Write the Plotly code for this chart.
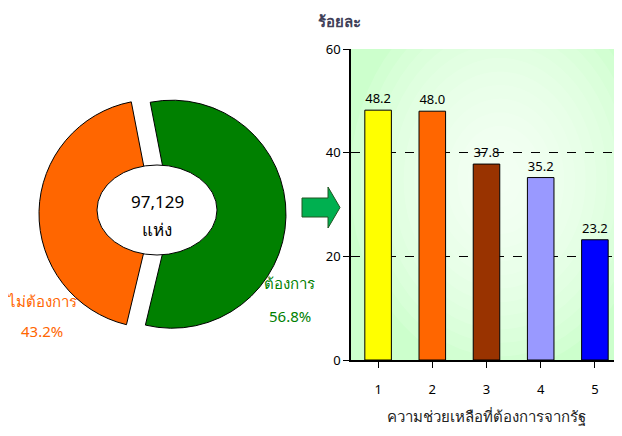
import plotly.graph_objects as go

# data
pie_labels = ["ต้องการ", "ไม่ต้องการ"]
pie_values = [56.8, 43.2]
pie_colors = ["#008000", "#FF6600"]
total_text = ["97,129", "แห่ง"]

bar_cats = [1, 2, 3, 4, 5]
bar_values = [48.2, 48.0, 37.8, 35.2, 23.2]
bar_colors = ["#FFFF00", "#FF6600", "#993300", "#9999FF", "#0000FF"]
y_ticks = [0, 20, 40, 60]

# page has an 8px body margin, so the figure is shrunk and shifted by it
OX, OY = 8, 8
W, H = 622 - OX, 436 - OY
FONT = "Noto Sans, sans-serif"


def px(x):
    return (x - OX) / W


def py(y):
    return 1 - (y - OY) / H


fig = go.Figure()

# donut
fig.add_trace(go.Pie(
    labels=pie_labels,
    values=pie_values,
    sort=False,
    direction="clockwise",
    rotation=-11,
    pull=[0.083, 0.083],
    hole=0.2,
    textinfo="none",
    marker=dict(colors=pie_colors, line=dict(color="black", width=1)),
    domain=dict(x=[px(39), px(286)], y=[py(337.5), py(90.5)]),
    showlegend=False,
))

# bars
fig.add_trace(go.Bar(
    x=bar_cats,
    y=bar_values,
    width=0.49,
    marker=dict(color=bar_colors, line=dict(color="black", width=1)),
    text=[f"{v:.1f}" for v in bar_values],
    textposition="outside",
    textfont=dict(size=13, color="black"),
    cliponaxis=False,
    showlegend=False,
))

fig.update_layout(
    width=W, height=H,
    margin=dict(l=0, r=0, t=0, b=0, autoexpand=False),
    paper_bgcolor="white",
    plot_bgcolor="#ccffcc",
    font=dict(family=FONT, size=13, color="black"),
    xaxis=dict(
        domain=[px(351), 1.0],
        range=[0.5, 5.5],
        tickvals=bar_cats,
        tickson="boundaries",
        ticks="outside", ticklen=6, tickcolor="black",
        ticklabelstandoff=11,
        showline=True, linecolor="black", linewidth=1.5,
        showgrid=False, zeroline=False,
        automargin=False,
        title=dict(text="ความช่วยเหลือที่ต้องการจากรัฐ",
                   font=dict(size=15, color="#222222"), standoff=14),
    ),
    yaxis=dict(
        domain=[py(360), py(49)],
        range=[0, 60],
        tickvals=y_ticks,
        ticks="outside", ticklen=6, tickcolor="black",
        showline=True, linecolor="black", linewidth=1.5,
        showgrid=True, gridcolor="black", griddash="dash", gridwidth=1,
        zeroline=False,
        automargin=False,
    ),
)

# soft radial glow in the plot background
n = 14
for i in range(n):
    f = 1 - i / n
    fig.add_shape(type="circle", xref="paper", yref="paper",
                  x0=px(500 - 150 * f), x1=px(500 + 150 * f),
                  y0=py(180 + 190 * f), y1=py(180 - 190 * f),
                  fillcolor="white", opacity=0.12, line=dict(width=0), layer="below")

# ellipse centre and arrow
fig.add_shape(type="circle", xref="paper", yref="paper",
              x0=px(97), x1=px(217), y0=py(255), y1=py(165),
              fillcolor="white", line=dict(color="black", width=1), layer="above")

arrow_pts = [(302, 198), (328, 198), (328, 187), (340, 207.5),
             (328, 228), (328, 217), (302, 217)]
path = "M " + " L ".join(f"{px(x)},{py(y)}" for x, y in arrow_pts) + " Z"
fig.add_shape(type="path", xref="paper", yref="paper", path=path,
              fillcolor="#00B050", line=dict(color="#225522", width=1), layer="above")

# annotations
ann = [
    (total_text[0], 157, 201, 17, "black"),
    (total_text[1], 157, 229, 17, "black"),
    (pie_labels[1], 42, 301, 15, pie_colors[1]),
    (f"{pie_values[1]}%", 42, 331, 15, pie_colors[1]),
    (pie_labels[0], 289, 283, 15, pie_colors[0]),
    (f"{pie_values[0]}%", 290, 316, 15, pie_colors[0]),
    ("<b>ร้อยละ</b>", 339, 21, 15, "#404058"),
]
for text, x, y, size, color in ann:
    fig.add_annotation(text=text, x=px(x), y=py(y), xref="paper", yref="paper",
                       xanchor="center", yanchor="middle", showarrow=False,
                       font=dict(size=size, color=color))

fig.write_html("out.html")
